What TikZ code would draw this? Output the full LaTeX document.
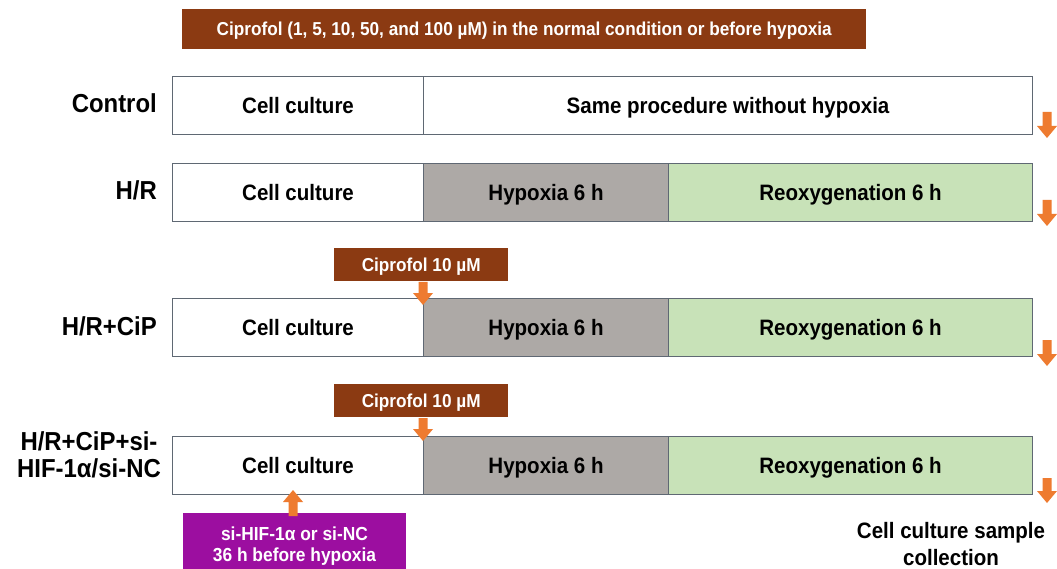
\documentclass[tikz,border=0pt]{standalone}
\usepackage{fontspec}
\setmainfont[FakeStretch=0.92]{Liberation Sans}
\definecolor{brownc}{HTML}{8B3A12}
\definecolor{grayc}{HTML}{ADA9A6}
\definecolor{greenc}{HTML}{C8E2B8}
\definecolor{purplec}{HTML}{9C0EA0}
\definecolor{orangec}{HTML}{EE7B30}
\definecolor{edgec}{HTML}{5F6873}
\newcommand{\downarr}[3]{%
  \fill[orangec] ({#1-4.5},{#2}) -- ({#1+4.5},{#2}) -- ({#1+4.5},{#3-12}) -- ({#1+10},{#3-12}) -- ({#1},{#3}) -- ({#1-10},{#3-12}) -- ({#1-4.5},{#3-12}) -- cycle;}
\newcommand{\uparr}[3]{%
  \fill[orangec] ({#1-4.5},{#2}) -- ({#1+4.5},{#2}) -- ({#1+4.5},{#3+12}) -- ({#1+10},{#3+12}) -- ({#1},{#3}) -- ({#1-10},{#3+12}) -- ({#1-4.5},{#3+12}) -- cycle;}
\begin{document}
\begin{tikzpicture}[x=1pt,y=-1pt,
  seg/.style={draw=edgec, line width=1.1pt, anchor=north west, minimum height=58pt, inner sep=0pt, text height=16pt, text depth=0pt, font=\fontsize{22.3}{25}\selectfont\bfseries},
  rowlabel/.style={anchor=east, align=right, inner sep=0pt, font=\fontsize{26}{27}\selectfont\bfseries},
  tag/.style={fill=brownc, text=white, inner sep=0pt, text height=13.4pt, text depth=0pt, font=\fontsize{18.7}{20}\selectfont\bfseries}
]
\useasboundingbox (0,0) rectangle (1057,569);
\fill[white] (0,0) rectangle (1057,569);
% top banner
\node[tag, minimum width=684pt, minimum height=40pt, anchor=north west] (banner) at (182,9) {Ciprofol (1, 5, 10, 50, and 100 µM) in the normal condition or before hypoxia};
% row 1
\node[seg, fill=white, minimum width=251pt] (c1) at (172,76) {Cell culture};
\node[seg, fill=white, minimum width=609pt] (s1) at (423,76) {Same procedure without hypoxia};
\node[rowlabel] (l1) at (157,103) {Control};
% row 2
\node[seg, fill=white, minimum width=251pt] (c2) at (172,163) {Cell culture};
\node[seg, fill=grayc, minimum width=245pt] (h2) at (423,163) {Hypoxia 6 h};
\node[seg, fill=greenc, minimum width=364pt] (r2) at (668,163) {Reoxygenation 6 h};
\node[rowlabel] (l2) at (157,190) {H/R};
% row 3
\node[tag, minimum width=174pt, minimum height=33pt, anchor=north west] (t3) at (334,248) {Ciprofol 10 µM};
\node[seg, fill=white, minimum width=251pt] (c3) at (172,298) {Cell culture};
\node[seg, fill=grayc, minimum width=245pt] (h3) at (423,298) {Hypoxia 6 h};
\node[seg, fill=greenc, minimum width=364pt] (r3) at (668,298) {Reoxygenation 6 h};
\node[rowlabel] (l3) at (157,326) {H/R+CiP};
% row 4
\node[tag, minimum width=174pt, minimum height=33pt, anchor=north west] (t4) at (334,384) {Ciprofol 10 µM};
\node[seg, fill=white, minimum width=251pt] (c4) at (172,436) {Cell culture};
\node[seg, fill=grayc, minimum width=245pt] (h4) at (423,436) {Hypoxia 6 h};
\node[seg, fill=greenc, minimum width=364pt] (r4) at (668,436) {Reoxygenation 6 h};
\node[rowlabel, align=center] (l4) at (161,455) {H/R+CiP+si-\\HIF-1α/si-NC};
% purple box
\fill[purplec] (183,513) rectangle (406,572);
\node[text=white, align=center, font=\fontsize{18.9}{21}\selectfont\bfseries] (p) at (294.5,546) {si-HIF-1α or si-NC\\36 h before hypoxia};
% collection label
\node[align=center, font=\fontsize{22.3}{27}\selectfont\bfseries] (col) at (951,544) {Cell culture sample\\collection};
% arrows
\downarr{423}{282}{305}
\downarr{423}{418}{441}
\uparr{293}{516}{490}
\downarr{1047}{112}{138}
\downarr{1047}{200}{226}
\downarr{1047}{340}{366}
\downarr{1047}{478}{503}
\end{tikzpicture}
\end{document}
